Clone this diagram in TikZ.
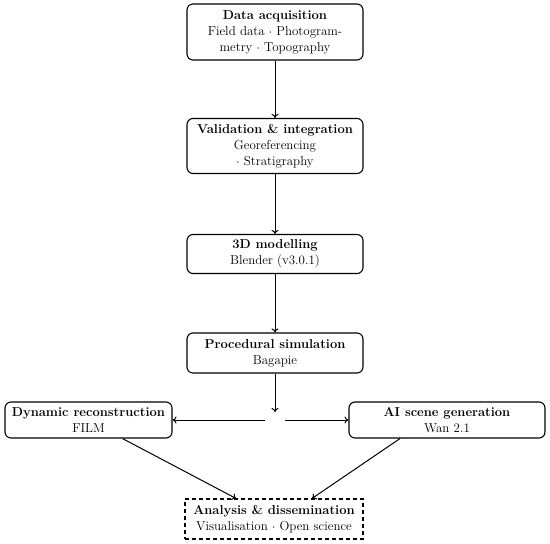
\documentclass[tikz,border=0pt]{standalone}
\usetikzlibrary{arrows.meta}
\begin{document}
\begin{tikzpicture}[x=1bp,y=-1bp,
  box/.style={draw,rounded corners=6bp,line width=1.1bp,align=center,inner sep=2bp,font=\fontsize{13}{16}\selectfont},
  dbox/.style={draw,dash pattern=on 4bp off 3bp,line width=1.1bp,align=center,inner sep=2bp,font=\fontsize{13}{16}\selectfont},
  arr/.style={line width=1bp,-{To[length=4bp,width=7bp]}}]
\useasboundingbox (0,0) rectangle (550,544);
\node[box,minimum width=176bp,minimum height=56bp] (acq) at (275,32) {\textbf{Data acquisition}\\Field data $\cdot$ Photogram-\\metry $\cdot$ Topography};
\node[box,minimum width=176bp,minimum height=55bp] (val) at (275,146) {\textbf{Validation \& integration}\\Georeferencing\\$\cdot$ Stratigraphy};
\node[box,minimum width=176bp,minimum height=39bp] (mod) at (275,254) {\textbf{3D modelling}\\Blender (v3.0.1)};
\node[box,minimum width=176bp,minimum height=40bp] (proc) at (275,353) {\textbf{Procedural simulation}\\Bagapie};
\node[box,minimum width=167bp,minimum height=36bp] (dyn) at (88.5,420) {\textbf{Dynamic reconstruction}\\FILM};
\node[box,minimum width=196bp,minimum height=36bp] (ai) at (447,420) {\textbf{AI scene generation}\\Wan 2.1};
\node[dbox,minimum width=178bp,minimum height=40bp] (ana) at (274,519) {\textbf{Analysis \& dissemination}\\Visualisation $\cdot$ Open science};
\coordinate (split) at (275,420);
\draw[arr] (acq) -- (val);
\draw[arr] (val) -- (mod);
\draw[arr] (mod) -- (proc);
\draw[arr,shorten >=8bp] (proc) -- (split);
\draw[arr,shorten <=10bp] (split) -- (dyn);
\draw[arr,shorten <=10bp] (split) -- (ai);
\draw[arr] ([xshift=34bp]dyn.south) -- ([xshift=-38bp]ana.north);
\draw[arr] ([xshift=-47bp]ai.south) -- ([xshift=38bp]ana.north);
\end{tikzpicture}
\end{document}
